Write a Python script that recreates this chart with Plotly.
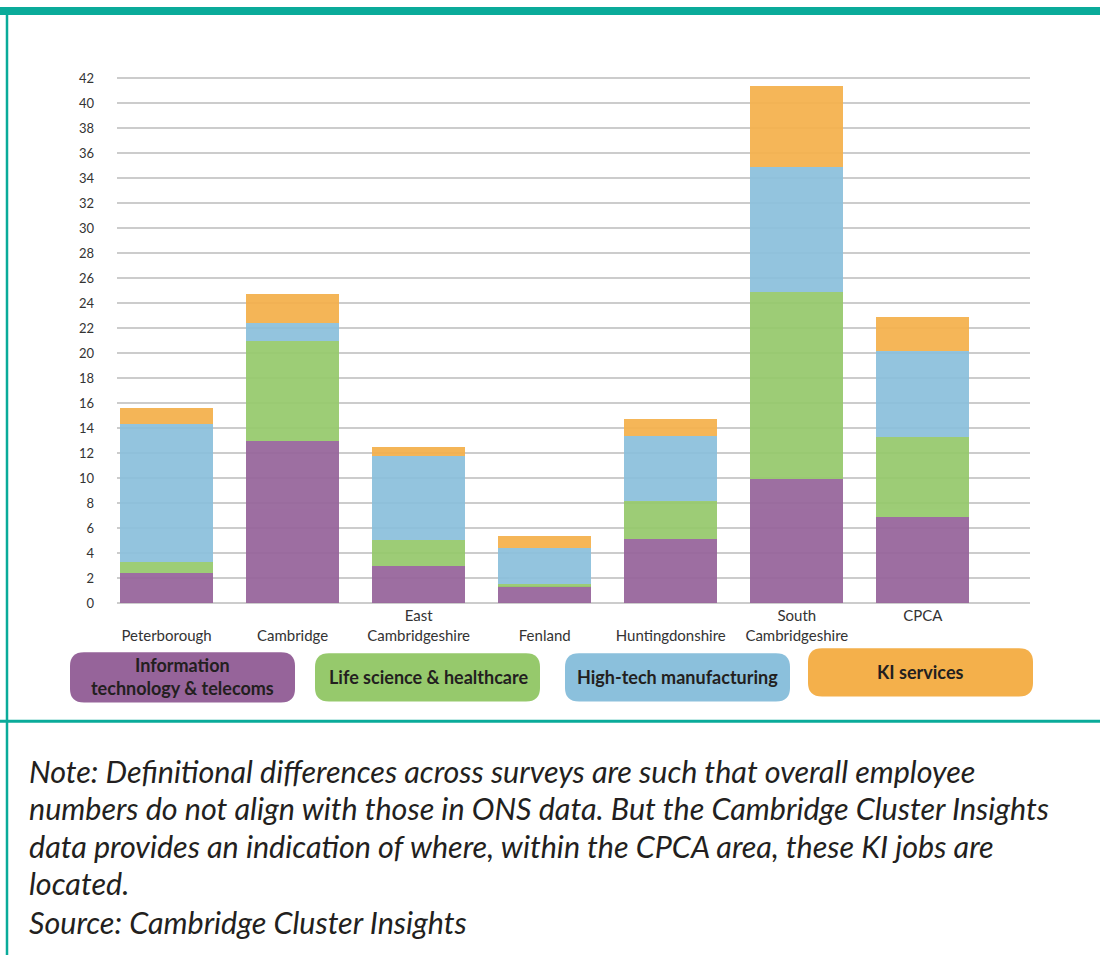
import plotly.graph_objects as go

# ======================================================
# Data (thousand jobs)
# ======================================================

areas = [
    " <br>Peterborough",
    " <br>Cambridge",
    "East<br>Cambridgeshire",
    " <br>Fenland",
    " <br>Huntingdonshire",
    "South<br>Cambridgeshire",
    "CPCA",
]

it_telecoms = [2.4, 13.0, 2.95, 1.35, 5.1, 9.95, 6.9]
life_science = [0.9, 8.0, 2.1, 0.15, 3.1, 14.95, 6.35]
hightech_mfg = [11.0, 1.4, 6.75, 2.9, 5.2, 10.0, 6.9]
ki_services = [1.3, 2.3, 0.65, 0.95, 1.35, 6.5, 2.75]

series_names = [
    "Information<br>technology & telecoms",
    "Life science & healthcare",
    "High-tech manufacturing",
    "KI services",
]
series_colors = ["#96649a", "#96c96c", "#8bc0dc", "#f4b04b"]

note_lines = [
    "Note: Definitional differences across surveys are such that overall employee",
    "numbers do not align with those in ONS data. But the Cambridge Cluster Insights",
    "data provides an indication of where, within the CPCA area, these KI jobs are",
    "located.",
    "Source: Cambridge Cluster Insights",
]

W, H = 1100, 961
TEAL = "#0aab9a"
FONT = "Lato"


def px_x(x):
    return x / W


def px_y(y):
    return 1 - y / H


# ======================================================
# Bars
# ======================================================

fig = go.Figure()

for name, vals, col in zip(series_names, [it_telecoms, life_science, hightech_mfg, ki_services], series_colors):
    fig.add_trace(go.Bar(
        x=areas,
        y=vals,
        name=name,
        marker=dict(color=col, line=dict(width=0)),
        opacity=0.93,
        width=0.74,
        showlegend=False,
    ))

# axis geometry: 0 at y=604.3px, 42 at y=72px
ppu = (604.3 - 72) / 42
y_lo, y_hi = -0.1, 42.1
x_left, x_right = 117, 1030

fig.update_layout(
    width=W,
    height=H,
    barmode="stack",
    paper_bgcolor="white",
    plot_bgcolor="white",
    margin=dict(l=0, r=0, t=0, b=0),
    font=dict(family=FONT, color="#333333"),
    xaxis=dict(
        domain=[px_x(x_left), px_x(x_right)],
        range=[-0.393, 6.85],
        showgrid=False,
        zeroline=False,
        showline=False,
        ticks="",
        tickfont=dict(size=15, color="#333333"),
        ticklabelstandoff=1,
    ),
    yaxis=dict(
        domain=[px_y(604.3 + 0.1 * ppu), px_y(72 - 0.1 * ppu)],
        range=[y_lo, y_hi],
        dtick=2,
        tick0=0,
        showgrid=True,
        gridcolor="#cccccc",
        gridwidth=1.5,
        zeroline=False,
        showline=False,
        ticks="",
        tickfont=dict(size=13, color="#333333"),
        ticklabelstandoff=22,
    ),
)

# ======================================================
# Frame
# ======================================================

shapes = [
    dict(type="rect", xref="paper", yref="paper", x0=0, x1=1, y0=px_y(8), y1=1,
         fillcolor=TEAL, line=dict(width=0), layer="above"),
    dict(type="line", xref="paper", yref="paper", x0=px_x(7), x1=px_x(7), y0=0, y1=1,
         line=dict(color=TEAL, width=2.5)),
    dict(type="line", xref="paper", yref="paper", x0=0, x1=1, y0=px_y(724), y1=px_y(724),
         line=dict(color=TEAL, width=3)),
]

# ======================================================
# Legend boxes (rounded)
# ======================================================

legend_boxes = [
    (70, 295, 654, 705, 182, 679),
    (315, 540, 655, 704, 428, 679),
    (565, 790, 655, 704, 677, 679),
    (808, 1033, 650, 699, 920, 674),
]


def rounded_path(x0, x1, y0, y1, r):
    X0, X1 = px_x(x0), px_x(x1)
    Y0, Y1 = px_y(y0), px_y(y1)
    rx, ry = r / W, r / H
    return (
        f"M {X0 + rx},{Y0} L {X1 - rx},{Y0} Q {X1},{Y0} {X1},{Y0 - ry} "
        f"L {X1},{Y1 + ry} Q {X1},{Y1} {X1 - rx},{Y1} "
        f"L {X0 + rx},{Y1} Q {X0},{Y1} {X0},{Y1 + ry} "
        f"L {X0},{Y0 - ry} Q {X0},{Y0} {X0 + rx},{Y0} Z"
    )


annotations = []
for (x0, x1, y0, y1, cx, cy), name, col in zip(legend_boxes, series_names, series_colors):
    shapes.append(dict(type="path", xref="paper", yref="paper",
                       path=rounded_path(x0, x1, y0, y1, 14),
                       fillcolor=col, line=dict(width=0)))
    annotations.append(dict(
        x=px_x(cx), y=px_y(cy), xref="paper", yref="paper",
        text=f"<b>{name}</b>", showarrow=False,
        xanchor="center", yanchor="middle", align="center",
        font=dict(family=FONT, size=18, color="#231f20"),
    ))

# ======================================================
# Note text
# ======================================================

note_y = [774, 812, 850, 888, 928]
for line, yy in zip(note_lines, note_y):
    annotations.append(dict(
        x=px_x(27), y=px_y(yy), xref="paper", yref="paper",
        text=f"<i>{line}</i>", showarrow=False,
        xanchor="left", yanchor="middle", align="left",
        font=dict(family=FONT, size=30.5, color="#231f20"),
    ))

fig.update_layout(shapes=shapes, annotations=annotations)

fig.write_html(
    "out.html",
    config={"displayModeBar": False},
    post_script="document.body.style.margin='0px';document.body.style.overflow='hidden';",
)
